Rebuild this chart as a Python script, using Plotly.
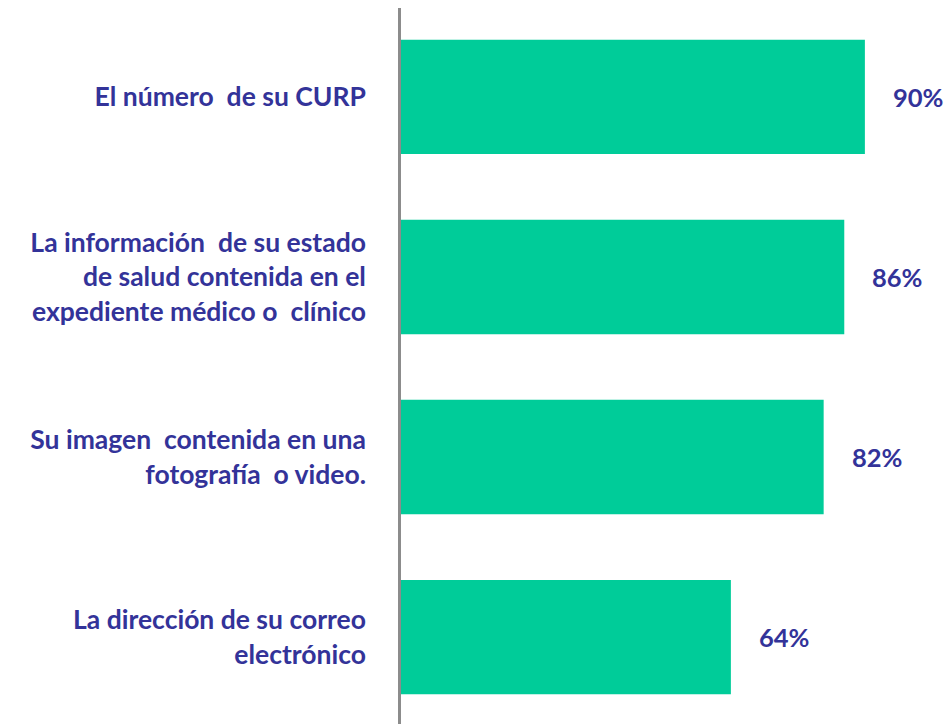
import plotly.graph_objects as go

categories = [
    "El número  de su CURP",
    "La información  de su estado<br>de salud contenida en el<br>expediente médico o  clínico",
    "Su imagen  contenida en una<br>fotografía  o video.",
    "La dirección de su correo<br>electrónico",
]
values = [90, 86, 82, 64]
value_labels = ["90%", "86%", "82%", "64%"]

TEXT = "#333399"
BAR = "#00CC99"
FONT = "Lato"

fig = go.Figure(go.Bar(
    x=values, y=categories, orientation="h",
    marker=dict(color=BAR, line=dict(width=0)),
    width=0.635,
    hoverinfo="skip",
    cliponaxis=False,
))

for v, c, t in zip(values, categories, value_labels):
    fig.add_annotation(x=v, y=c, text=t, showarrow=False, xanchor="left",
                       xshift=26, font=dict(family=FONT, size=25.5, color=TEXT, weight="bold"))

# page body has an 8px default margin, so the figure is sized/offset to compensate
fig.update_layout(
    width=944, height=716,
    margin=dict(l=393, r=0, t=0, b=0, autoexpand=False),
    paper_bgcolor="white", plot_bgcolor="white",
    showlegend=False,
    xaxis=dict(range=[0, 106.9], visible=False, fixedrange=True),
    yaxis=dict(
        type="category", range=[3.483, -0.494],
        showline=True, linecolor="#8c8c8c", linewidth=2.5,
        showgrid=False, zeroline=False, ticks="",
        ticklabelstandoff=27,
        tickfont=dict(family=FONT, size=26.5, color=TEXT, weight="bold"),
    ),
)

fig.write_html("out.html")
